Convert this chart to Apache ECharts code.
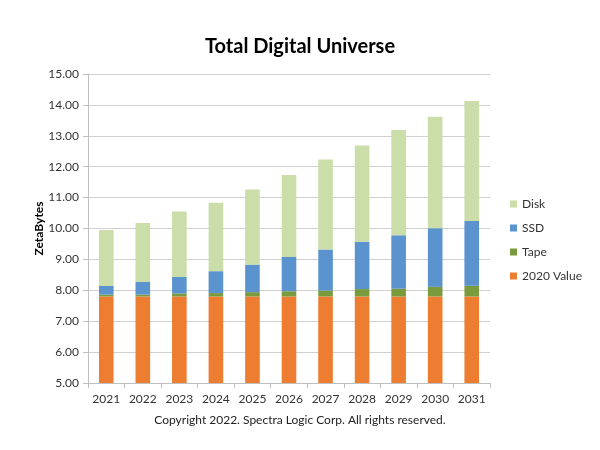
<!DOCTYPE html>
<html><head><meta charset="utf-8">
<script src="https://cdn.jsdelivr.net/npm/echarts@6/dist/echarts.min.js"></script>
<style>html,body{margin:0;padding:0;background:#fff}#c{width:600px;height:450px}</style>
</head><body><div id="c"></div>
<script>
const years = ['2021','2022','2023','2024','2025','2026','2027','2028','2029','2030','2031'];
const value2020 = [7.80,7.80,7.80,7.80,7.80,7.80,7.80,7.80,7.80,7.80,7.80];
const tape = [0.06,0.06,0.10,0.11,0.14,0.17,0.19,0.24,0.25,0.31,0.35];
const ssd = [0.28,0.41,0.53,0.71,0.89,1.11,1.33,1.53,1.73,1.90,2.09];
const disk = [1.81,1.91,2.12,2.21,2.43,2.65,2.91,3.12,3.41,3.61,3.89];
const legendOrder = ['Disk','SSD','Tape','2020 Value'];

const FONT = 'Lato';
const chart = echarts.init(document.getElementById('c'), null, {renderer:'canvas'});
const mk = (name, data, color) => ({
  name, type:'bar', stack:'total', data, barWidth:'40%',
  itemStyle:{color}, emphasis:{disabled:true}
});
chart.setOption({
  animation:false,
  textStyle:{fontFamily:FONT},
  title:{text:'Total Digital Universe', left:'center', top:32,
    textStyle:{fontFamily:FONT, fontSize:20, fontWeight:'bold', color:'#000'}},
  graphic:[{type:'text', left:'center', top:414,
    style:{text:'Copyright 2022. Spectra Logic Corp. All rights reserved.', font:'12px Lato', fill:'#222'}}],
  legend:{data:legendOrder, orient:'vertical', left:505, top:193, itemWidth:7, itemHeight:7, itemGap:12,
    icon:'rect', textStyle:{fontFamily:FONT, fontSize:12, color:'#333'}},
  grid:{left:88, right:110, top:74, bottom:67},
  xAxis:{type:'category', data:years,
    axisLine:{lineStyle:{color:'#bfbfbf'}},
    axisTick:{show:true, length:5, lineStyle:{color:'#bfbfbf'}},
    axisLabel:{color:'#333', fontSize:12, fontFamily:FONT, margin:10}},
  yAxis:{type:'value', min:5, max:15, interval:1, name:'ZetaBytes', nameLocation:'middle', nameGap:43,
    nameMoveOverlap:false,
    nameTextStyle:{fontFamily:FONT, fontWeight:'bold', fontSize:12, color:'#000'},
    axisLine:{show:true, lineStyle:{color:'#bfbfbf'}},
    axisTick:{show:true, length:5, lineStyle:{color:'#bfbfbf'}},
    splitLine:{lineStyle:{color:'#d0d0d0'}},
    axisLabel:{color:'#333', fontSize:12, fontFamily:FONT, margin:9, formatter:v=>v.toFixed(2)}},
  series:[
    mk('2020 Value', value2020, '#ED7D31'),
    mk('Tape', tape, '#7A9A3E'),
    mk('SSD', ssd, '#5B93CE'),
    mk('Disk', disk, '#CBDDA8')
  ]
});
</script></body></html>
